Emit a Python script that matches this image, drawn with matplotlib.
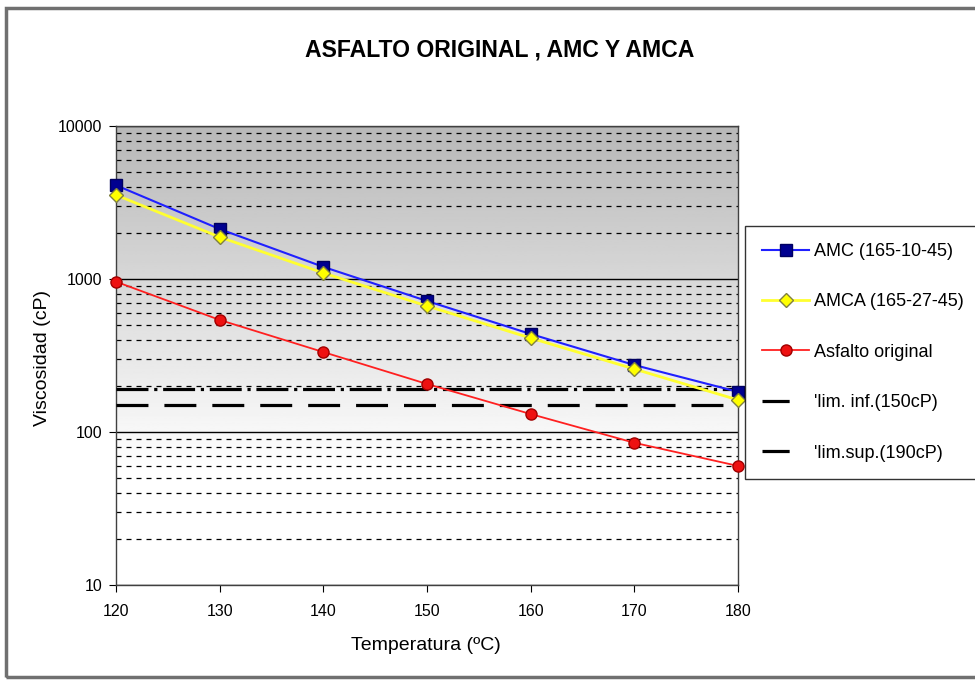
import numpy as np
import matplotlib
matplotlib.use("Agg")
import matplotlib.pyplot as plt
from matplotlib.patches import Rectangle
from matplotlib.lines import Line2D

plt.rcParams['font.family'] = ['Liberation Sans', 'DejaVu Sans']

# datos
temperatura = [120, 130, 140, 150, 160, 170, 180]
amc = [4100, 2120, 1200, 718, 437, 274, 183]
amca = [3540, 1880, 1095, 666, 411, 258, 162]
asfalto = [960, 540, 333, 206, 131, 85, 60]
lim_x = [120, 180]
lim_inf = [150, 150]
lim_sup = [190, 190]

fig = plt.figure(figsize=(9.75, 6.8), dpi=100)
ax = fig.add_axes([0.119, 0.1397, 0.638, 0.675])

# fondo degradado gris (arriba) -> blanco (abajo)
frac = np.linspace(0, 1, 256)
grad = np.clip(0.72 + 0.30 * frac / 0.8, 0, 1).reshape(-1, 1)
ax.imshow(grad, cmap='gray', vmin=0, vmax=1, extent=[0, 1, 0, 1],
          transform=ax.transAxes, aspect='auto', zorder=0)

ax.set_yscale('log')
ax.set_ylim(10, 10000)
ax.set_xlim(120, 180)

ax.yaxis.grid(True, which='major', color='black', linewidth=1.0, zorder=1)
ax.yaxis.grid(True, which='minor', color='black', linewidth=0.9,
              linestyle=(0, (4, 4)), zorder=1)
ax.set_axisbelow(True)

l1, = ax.plot(temperatura, amc, color='#2020ff', lw=1.5, marker='s', ms=8,
              mfc='#000090', mec='#000060', zorder=4, clip_on=False)
l2, = ax.plot(temperatura, amca, color='#ffff30', lw=2.0, marker='D', ms=7.5,
              mfc='#ffff00', mec='#808040', zorder=5, clip_on=False)
l3, = ax.plot(temperatura, asfalto, color='#ff2020', lw=1.3, marker='o', ms=8,
              mfc='#ee1111', mec='#a00000', zorder=4, clip_on=False)
ax.plot(lim_x, lim_inf, color='black', lw=2.3, linestyle=(0, (10, 5)), zorder=3)
ax.plot(lim_x, lim_sup, color='black', lw=2.3, linestyle=(0, (10, 1.8, 1, 1.8)),
        zorder=3)

ax.set_xticks(temperatura)
ax.set_yticks([10, 100, 1000, 10000])
ax.set_yticklabels(['10', '100', '1000', '10000'])
ax.tick_params(axis='both', which='major', direction='out', length=5,
               labelsize=11.5)
ax.tick_params(axis='y', pad=5)
ax.tick_params(axis='x', pad=9)
ax.tick_params(axis='y', which='minor', length=0)
for s in ax.spines.values():
    s.set_color('#404040')
    s.set_linewidth(1.0)

fig.text(0.437, 0.051, 'Temperatura (ºC)', ha='center', va='center', fontsize=14)
fig.text(0.044, 0.474, 'Viscosidad (cP)', ha='center', va='center',
         rotation=90, fontsize=14)

fig.text(0.313, 0.926, 'ASFALTO ORIGINAL , AMC Y AMCA', ha='left', va='center',
         fontsize=16.6, fontweight='bold')

# en la leyenda los limites se ven como un trazo corto
h_inf = Line2D([], [], color='black', lw=2.3, linestyle=(0, (8.5, 30)))
h_sup = Line2D([], [], color='black', lw=2.3, linestyle=(0, (8.5, 30)))
leg = fig.legend([l1, l2, l3, h_inf, h_sup],
                 ['AMC (165-10-45)', 'AMCA (165-27-45)', 'Asfalto original',
                  "'lim. inf.(150cP)", "'lim.sup.(190cP)"],
                 loc='upper left', bbox_to_anchor=(0.764, 0.668),
                 fontsize=13, frameon=True, fancybox=False, edgecolor='black',
                 labelspacing=1.85, handlelength=2.6, borderpad=0.95,
                 handletextpad=0.3, borderaxespad=0)
leg.get_frame().set_linewidth(1.0)

# marco exterior
fig.patches.append(Rectangle((0.006, 0.005), 1.0, 0.983, transform=fig.transFigure,
                             fill=False, edgecolor='#707070', linewidth=2.5))

fig.savefig('out.png', dpi=100)
